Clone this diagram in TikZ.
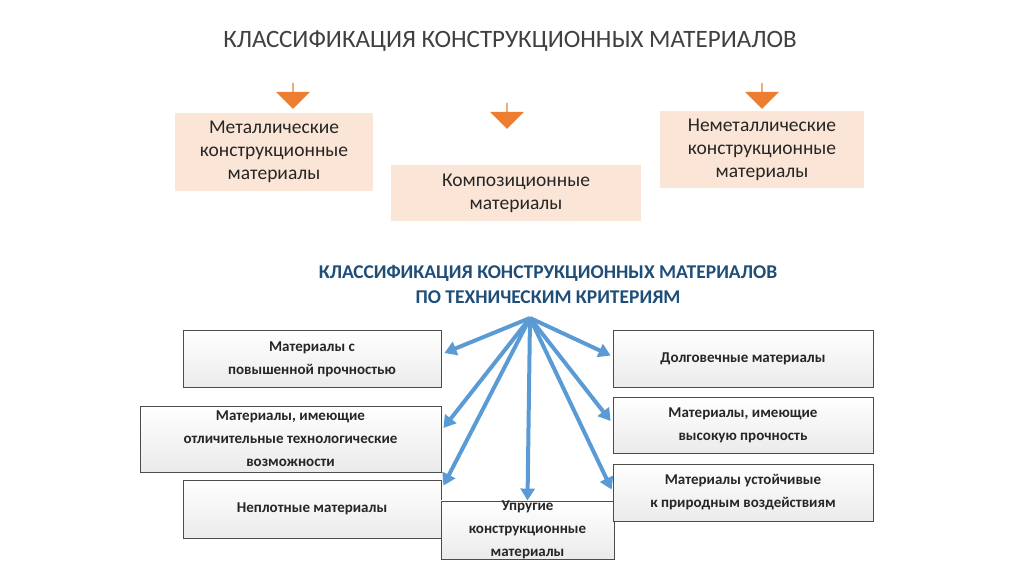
\documentclass[tikz,border=0pt]{standalone}
\usepackage{fontspec}
\setmainfont{Carlito}
\usetikzlibrary{arrows.meta,shapes.arrows}
\definecolor{peach}{RGB}{251,229,214}
\definecolor{arrowblue}{RGB}{91,155,213}
\definecolor{titleblue}{RGB}{31,78,121}
\definecolor{orangeA}{RGB}{237,125,49}
\begin{document}
\begin{tikzpicture}[x=1pt,y=-1pt,
  groupbox/.style={fill=peach,text=black!85,font=\fontsize{19.5}{23}\selectfont,align=center,inner sep=0pt},
  critbox/.style={draw=black!70,thick,top color=white,bottom color=black!8,font=\bfseries\fontsize{15}{23}\selectfont,text=black!85,align=center,inner sep=0pt},
  downarrow/.style={single arrow,fill=orangeA,shape border rotate=270,minimum width=34pt,minimum height=26pt,single arrow head extend=6pt,single arrow head indent=0pt,inner sep=0pt},
  link/.style={-{Triangle[length=12pt,width=14pt]},line width=4pt,draw=arrowblue}]
\useasboundingbox (0,0) rectangle (1024,574);
\node[font=\fontsize{25}{28}\selectfont,text=black!75] (title) at (510,41) {КЛАССИФИКАЦИЯ КОНСТРУКЦИОННЫХ МАТЕРИАЛОВ};
% groups
\node[groupbox,minimum width=198pt,minimum height=78pt] (metal) at (274,152) {Металлические\\конструкционные\\материалы};
\node[groupbox,minimum width=250pt,minimum height=56pt] (comp) at (516,193) {Композиционные\\материалы};
\node[groupbox,minimum width=204pt,minimum height=77pt] (nonmetal) at (762,149.5) {Неметаллические\\конструкционные\\материалы};
\node[downarrow] (ar1) at (293,95.5) {};
\node[downarrow] (ar2) at (507,115.5) {};
\node[downarrow] (ar3) at (762,95.5) {};
% criteria
\node[font=\bfseries\fontsize{19.5}{25}\selectfont,text=titleblue,align=center] (crit) at (548,284) {КЛАССИФИКАЦИЯ КОНСТРУКЦИОННЫХ МАТЕРИАЛОВ\\ПО ТЕХНИЧЕСКИМ КРИТЕРИЯМ};
\coordinate (apex) at (530,318);
\node[critbox,minimum width=258pt,minimum height=57pt] (strong) at (312,359) {Материалы с\\повышенной прочностью};
\node[critbox,minimum width=301pt,minimum height=66pt] (techn) at (290.5,439) {Материалы, имеющие\\отличительные технологические\\возможности};
\node[critbox,minimum width=258pt,minimum height=58pt] (porous) at (312,509) {Неплотные материалы};
\node[critbox,minimum width=173pt,minimum height=58pt] (elastic) at (527.5,530) {Упругие\\конструкционные\\материалы};
\node[critbox,minimum width=260pt,minimum height=57pt] (durable) at (743,358.5) {Долговечные материалы};
\node[critbox,minimum width=260pt,minimum height=56pt] (hard) at (743,425) {Материалы, имеющие\\высокую прочность};
\node[critbox,minimum width=260pt,minimum height=57pt] (resist) at (743,492.5) {Материалы устойчивые\\к природным воздействиям};
\draw[link] (apex) -- ([shift={(3pt,6pt)}]strong.east);
\draw[link] (apex) -- ([shift={(2pt,11pt)}]techn.east);
\draw[link] (apex) -- ([shift={(2pt,-6pt)}]porous.north east);
\draw[link] (apex) -- (elastic.north);
\draw[link] (apex) -- ([shift={(-2pt,3pt)}]durable.west);
\draw[link] (apex) -- ([shift={(-2pt,4pt)}]hard.west);
\draw[link] (apex) -- ([shift={(-1pt,3pt)}]resist.west);
\end{tikzpicture}
\end{document}
